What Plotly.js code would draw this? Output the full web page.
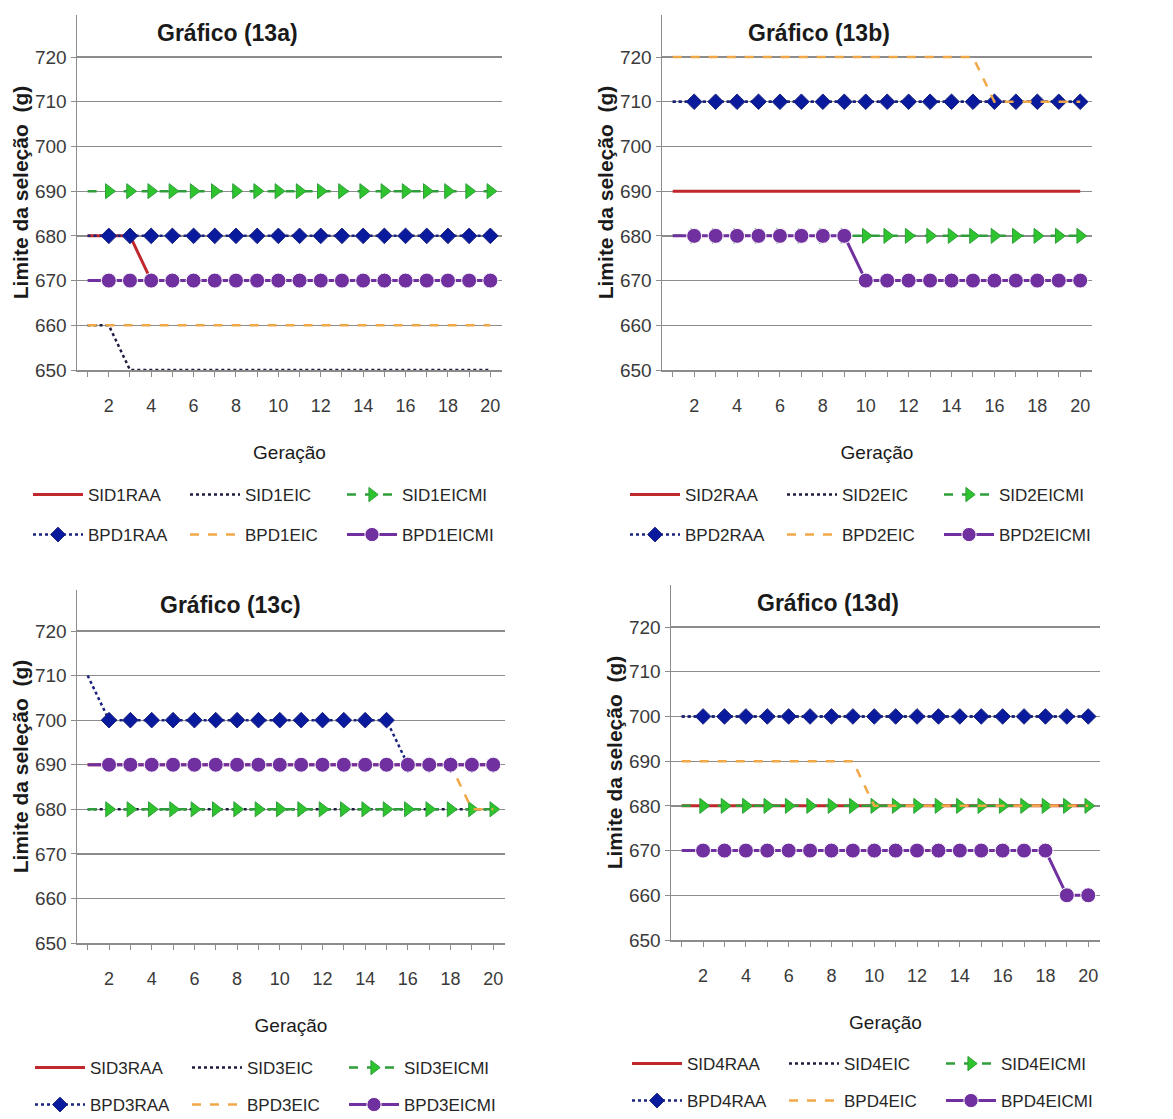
<!DOCTYPE html>
<html><head><meta charset="utf-8">
<script src="https://cdn.plot.ly/plotly-3.0.1.min.js"></script>
<style>html,body{margin:0;padding:0;background:#fff}#chart{width:1173px;height:1119px}</style>
</head><body><div id="chart"></div>
<script>
// ---- data ----
const geracao = [1,2,3,4,5,6,7,8,9,10,11,12,13,14,15,16,17,18,19,20];
const xTickText = ['', '2', '', '4', '', '6', '', '8', '', '10', '', '12', '', '14', '', '16', '', '18', '', '20'];
const yTickVals = [650,660,670,680,690,700,710,720];
const panelTitles = ['Gráfico (13a)', 'Gráfico (13b)', 'Gráfico (13c)', 'Gráfico (13d)'];
const seriesKinds = ['SID{n}RAA', 'SID{n}EIC', 'SID{n}EICMI', 'BPD{n}RAA', 'BPD{n}EIC', 'BPD{n}EICMI'];

// Panel 13a
const SID1RAA   = [680,680,680,670,670,670,670,670,670,670,670,670,670,670,670,670,670,670,670,670];
const SID1EIC   = [660,660,650,650,650,650,650,650,650,650,650,650,650,650,650,650,650,650,650,650];
const SID1EICMI = [690,690,690,690,690,690,690,690,690,690,690,690,690,690,690,690,690,690,690,690];
const BPD1RAA   = [680,680,680,680,680,680,680,680,680,680,680,680,680,680,680,680,680,680,680,680];
const BPD1EIC   = [660,660,660,660,660,660,660,660,660,660,660,660,660,660,660,660,660,660,660,660];
const BPD1EICMI = [670,670,670,670,670,670,670,670,670,670,670,670,670,670,670,670,670,670,670,670];
// Panel 13b
const SID2RAA   = [690,690,690,690,690,690,690,690,690,690,690,690,690,690,690,690,690,690,690,690];
const SID2EIC   = [710,710,710,710,710,710,710,710,710,710,710,710,710,710,710,710,710,710,710,710];
const SID2EICMI = [680,680,680,680,680,680,680,680,680,680,680,680,680,680,680,680,680,680,680,680];
const BPD2RAA   = [710,710,710,710,710,710,710,710,710,710,710,710,710,710,710,710,710,710,710,710];
const BPD2EIC   = [720,720,720,720,720,720,720,720,720,720,720,720,720,720,720,710,710,710,710,710];
const BPD2EICMI = [680,680,680,680,680,680,680,680,680,670,670,670,670,670,670,670,670,670,670,670];
// Panel 13c
const SID3RAA   = [690,690,690,690,690,690,690,690,690,690,690,690,690,690,690,690,690,690,690,690];
const SID3EIC   = [680,680,680,680,680,680,680,680,680,680,680,680,680,680,680,680,680,680,680,680];
const SID3EICMI = [680,680,680,680,680,680,680,680,680,680,680,680,680,680,680,680,680,680,680,680];
const BPD3RAA   = [710,700,700,700,700,700,700,700,700,700,700,700,700,700,700,690,690,690,690,690];
const BPD3EIC   = [690,690,690,690,690,690,690,690,690,690,690,690,690,690,690,690,690,690,680,680];
const BPD3EICMI = [690,690,690,690,690,690,690,690,690,690,690,690,690,690,690,690,690,690,690,690];
// Panel 13d
const SID4RAA   = [680,680,680,680,680,680,680,680,680,680,680,680,680,680,680,680,680,680,680,680];
const SID4EIC   = [700,700,700,700,700,700,700,700,700,700,700,700,700,700,700,700,700,700,700,700];
const SID4EICMI = [680,680,680,680,680,680,680,680,680,680,680,680,680,680,680,680,680,680,680,680];
const BPD4RAA   = [700,700,700,700,700,700,700,700,700,700,700,700,700,700,700,700,700,700,700,700];
const BPD4EIC   = [690,690,690,690,690,690,690,690,690,680,680,680,680,680,680,680,680,680,680,680];
const BPD4EICMI = [670,670,670,670,670,670,670,670,670,670,670,670,670,670,670,670,670,670,660,660];

const panelData = [
  [SID1RAA, SID1EIC, SID1EICMI, BPD1RAA, BPD1EIC, BPD1EICMI],
  [SID2RAA, SID2EIC, SID2EICMI, BPD2RAA, BPD2EIC, BPD2EICMI],
  [SID3RAA, SID3EIC, SID3EICMI, BPD3RAA, BPD3EIC, BPD3EICMI],
  [SID4RAA, SID4EIC, SID4EICMI, BPD4RAA, BPD4EIC, BPD4EICMI]
];

// ---- styles ----
const FONT = '"Liberation Sans", Arial, sans-serif';
const W = 1173, H = 1119;
function msz(s){ return geracao.map((g,i)=> i===0 ? 0 : s); }
const styles = [
  {mode:'lines', line:{color:'#c0282d', width:3}},
  {mode:'lines', line:{color:'#1c1c3c', width:2.5, dash:'dot'}},
  {mode:'lines+markers', line:{color:'#2f9e3a', width:2.5, dash:'dash'}, marker:{symbol:'triangle-right', color:'#2ec42e', size:msz(13), opacity:1}},
  {mode:'lines+markers', line:{color:'#1a237e', width:2.5, dash:'dot'}, marker:{symbol:'diamond', color:'#0a1a9c', size:msz(12), opacity:1}},
  {mode:'lines', line:{color:'#f0a848', width:2.5, dash:'dash'}},
  {mode:'lines+markers', line:{color:'#7030a0', width:3}, marker:{symbol:'circle', color:'#7030a0', size:msz(15), opacity:1}}
];

// pixel geometry of each panel
const panels = [
  {x0:77, x1:502, top:15, bottom:370, title:[228,33], legX:28, legY:[495,535], yTop:729.4},
  {x0:662, x1:1092, top:15, bottom:370, title:[819,33], legX:625, legY:[495,535], yTop:729.4},
  {x0:77, x1:505, top:590, bottom:943, title:[230,605], legX:30, legY:[1068,1105], yTop:729.2},
  {x0:671, x1:1100, top:585, bottom:940, title:[828,603], legX:627, legY:[1064,1101], yTop:729.4}
];

const traces = [];
const layout = {
  width: W, height: H,
  margin: {l:0, r:0, t:0, b:0, autoexpand: false},
  paper_bgcolor: '#ffffff', plot_bgcolor: '#ffffff',
  font: {family: FONT, color: '#262626'},
  showlegend: true,
  annotations: []
};

panels.forEach((p, k) => {
  const sfx = k === 0 ? '' : String(k + 1);
  const xa = 'x' + sfx, ya = 'y' + sfx;
  const n = k + 1;
  panelData[k].forEach((vals, j) => {
    const st = styles[j];
    const li = 2*k + (j < 3 ? 0 : 1);
    const t = {
      type: 'scatter', x: geracao, y: vals, xaxis: xa, yaxis: ya,
      name: seriesKinds[j].replace('{n}', n),
      mode: st.mode, line: st.line, legend: 'legend' + (li === 0 ? '' : String(li + 1))
    };
    if (st.marker) t.marker = st.marker;
    traces.push(t);
  });
  layout['xaxis' + sfx] = {
    domain: [p.x0 / W, p.x1 / W], anchor: ya,
    range: [0.5, 20.55], tickmode: 'array', tickvals: geracao, ticktext: xTickText,
    ticks: 'outside', ticklen: 5, tickcolor: '#8c8c8c', tickwidth: 1,
    showline: true, linecolor: '#8c8c8c', linewidth: 1.5, showgrid: false, zeroline: false,
    tickfont: {size: 18, color: '#3a3a3a'}, ticklabelstandoff: 14,
    title: {text: 'Geração', font: {size: 19, color: '#1a1a1a'}, standoff: 30}
  };
  layout['yaxis' + sfx] = {
    domain: [1 - p.bottom / H, 1 - p.top / H], anchor: xa,
    range: [650, p.yTop], tickmode: 'array', tickvals: yTickVals,
    ticks: 'outside', ticklen: 5, tickcolor: '#8c8c8c',
    showline: true, linecolor: '#8c8c8c', linewidth: 1.5,
    showgrid: true, gridcolor: '#8c8c8c', gridwidth: 1.3, zeroline: false,
    tickfont: {size: 19, color: '#3a3a3a'},
    title: {text: 'Limite da seleção\u00a0 (g)', font: {size: 21, color: '#1a1a1a', weight: 'bold'}, standoff: 0}
  };
  layout.annotations.push({
    xref: 'paper', yref: 'paper', x: p.title[0] / W, y: 1 - p.title[1] / H,
    xanchor: 'center', yanchor: 'middle', showarrow: false,
    text: '<b>' + panelTitles[k] + '</b>', font: {size: 23, color: '#1a1a1a'}
  });
  [0, 1].forEach(r => {
    const idx = 2*k + r;
    const lname = 'legend' + (idx === 0 ? '' : String(idx + 1));
    layout[lname] = {
      x: p.legX / W, y: 1 - p.legY[r] / H, xanchor: 'left', yanchor: 'middle',
      orientation: 'h', entrywidth: 92, entrywidthmode: 'pixels', itemwidth: 50,
      bgcolor: 'rgba(0,0,0,0)', borderwidth: 0,
      font: {size: 17, color: '#262626', family: FONT}
    };
  });
});

Plotly.newPlot('chart', traces, layout, {staticPlot: true, displayModeBar: false});
</script>
</body></html>
